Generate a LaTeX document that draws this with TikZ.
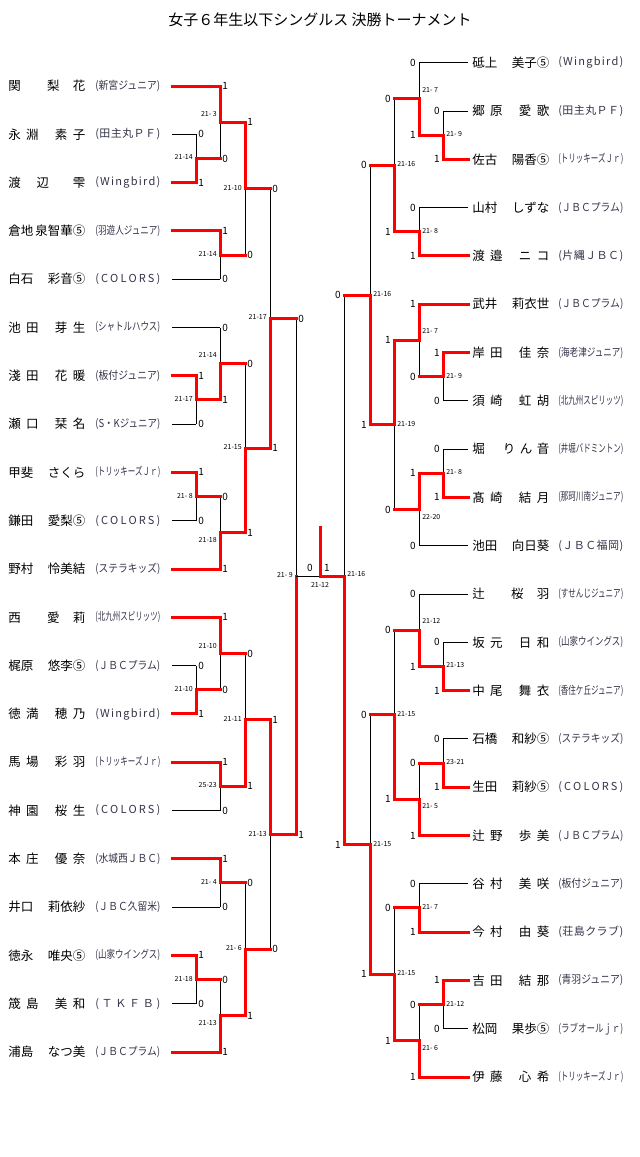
\documentclass[tikz,border=0pt]{standalone}
\usepackage{fontspec}
\usepackage{graphicx}
\setmainfont{Noto Sans CJK JP}
\usetikzlibrary{calc}

\definecolor{winred}{RGB}{255,0,0}
\definecolor{clubgray}{RGB}{50,50,72}

\newcommand\nmfont{\fontsize{12.5}{13}\selectfont}
\newcommand\clfont{\fontsize{11}{12}\selectfont}
\newcommand\resfont{\fontsize{10}{10}\selectfont}
\newcommand\scfont{\fontsize{7}{7}\selectfont}
\newcommand\ttlfont{\fontsize{15}{16}\selectfont}

% names are spread over their cell
\newcommand\nm[1]{{\spaceskip=0pt plus 1fil\relax\hbox to 77pt{#1}}}
% club names: squeezed when too long, spread when short
\def\spreadchars#1#2\relax{#1\ifx\relax#2\relax\else\hfil\spreadchars#2\relax\fi}
\newcommand\clubbox[1]{\sbox0{#1}\ifdim\wd0>65pt\resizebox{65pt}{\height}{#1}\else\hbox to 65pt{\spreadchars#1\relax}\fi}
\newcommand\club[1]{\edef\clubtmp{#1}\expandafter\clubbox\expandafter{\clubtmp}}

% one match: name, x level, winner, loser, loser line, score, score shift
\newcommand\match[7]{
  \coordinate (#1) at ($(#3 -| #2)!.5!(#4 -| #2)$);
  \draw[loseline] (#1) -- (#4 -| #2);
  \draw[#5] (#4) -- (#4 -| #2);
  \draw[winline] (#3) -- (#3 -| #2) -- (#1);
  \node[result] at (#3 -| #2) {1};
  \node[result] at (#4 -| #2) {0};
  \node[score] at ($(#1)+(0,#7)$) {#6};
}

\begin{document}
\begin{tikzpicture}[x=1pt,y=-1pt,semithick]
        \tikzstyle{winline}=[draw=winred, line width=3pt, line cap=rect]
        \tikzstyle{loseline}=[draw=black, line width=1pt]
        \tikzstyle{player}=[anchor=west, inner sep=0pt, font=\nmfont]
        \tikzstyle{clubname}=[anchor=west, inner sep=0pt, font=\clfont, text=clubgray]
        \tikzstyle{result}=[inner sep=0pt, font=\resfont]
        \tikzstyle{score}=[inner sep=0pt, font=\scfont]
        \useasboundingbox (0,0) rectangle (640,1157);

        \node[font=\ttlfont] (Title) at (320,20) {女子６年生以下シングルス 決勝トーナメント};

        % x levels of the bracket
        \foreach \lv/\xl/\xr in {A/196/443, B/220/419, C/245/394, D/270/370, E/296/344} {
          \coordinate (L\lv) at (\xl,0);
          \coordinate (R\lv) at (\xr,0);
        }
        \coordinate (Mid) at (320,0);

        % players, left half
        \foreach \i/\nam/\cl in {1/{関 \ 梨 花}/新宮ジュニア, 2/{永 淵 \ \ 素 子}/田主丸ＰＦ,
            3/{渡 \ 辺 \ \ 雫}/Wingbird, 4/{倉地 泉智華⑤}/羽遊人ジュニア, 5/{白石 彩音⑤}/COLORS,
            6/{池 田 \ \ 芽 生}/シャトルハウス, 7/{淺 田 \ \ 花 暖}/板付ジュニア,
            8/{瀬 口 \ \ 栞 名}/S・Kジュニア, 9/{甲斐 さくら}/トリッキーズＪｒ,
            10/{鎌田 愛梨⑤}/COLORS, 11/{野村 怜美結}/ステラキッズ, 12/{西 \ 愛 莉}/北九州スピリッツ,
            13/{梶原 悠李⑤}/ＪＢＣプラム, 14/{徳 満 \ \ 穂 乃}/Wingbird,
            15/{馬 場 \ \ 彩 羽}/トリッキーズＪｒ, 16/{神 園 \ \ 桜 生}/COLORS,
            17/{本 庄 \ \ 優 奈}/水城西ＪＢＣ, 18/{井口 莉依紗}/ＪＢＣ久留米,
            19/{徳永 唯央⑤}/山家ウイングス, 20/{筬 島 \ \ 美 和}/ＴＫＦＢ, 21/{浦島 なつ美}/ＪＢＣプラム} {
          \coordinate (L\i) at (172,{86+48.3*(\i-1)});
          \node[player] (NmL\i) at (8,{86+48.3*(\i-1)}) {\nm{\nam}};
          \node[clubname] (ClL\i) at (95,{86+48.3*(\i-1)}) {\club{(\cl)}};
        }

        % players, right half
        \foreach \i/\nam/\cl in {1/{砥上 美子⑤}/Wingbird, 2/{郷 原 \ \ 愛 歌}/田主丸ＰＦ,
            3/{佐古 陽香⑤}/トリッキーズＪｒ, 4/{山村 しずな}/ＪＢＣプラム, 5/{渡 邉 \ \ ニ コ}/片縄ＪＢＣ,
            6/{武井 莉衣世}/ＪＢＣプラム, 7/{岸 田 \ \ 佳 奈}/海老津ジュニア,
            8/{須 崎 \ \ 虹 胡}/北九州スピリッツ, 9/{堀 \ \ \ り ん 音}/井堀バドミントン,
            10/{髙 崎 \ \ 結 月}/那珂川南ジュニア, 11/{池田 向日葵}/ＪＢＣ福岡,
            12/{辻 \ 桜 羽}/すせんじジュニア, 13/{坂 元 \ \ 日 和}/山家ウイングス,
            14/{中 尾 \ \ 舞 衣}/香住ケ丘ジュニア, 15/{石橋 和紗⑤}/ステラキッズ,
            16/{生田 莉紗⑤}/COLORS, 17/{辻 野 \ \ 歩 美}/ＪＢＣプラム, 18/{谷 村 \ \ 美 咲}/板付ジュニア,
            19/{今 村 \ \ 由 葵}/荘島クラブ, 20/{吉 田 \ \ 結 那}/青羽ジュニア,
            21/{松岡 果歩⑤}/ラブオールｊｒ, 22/{伊 藤 \ \ 心 希}/トリッキーズＪｒ} {
          \coordinate (R\i) at (468,{62.7+48.3*(\i-1)});
          \node[player] (NmR\i) at (472,{62.7+48.3*(\i-1)}) {\nm{\nam}};
          \node[clubname] (ClR\i) at (558,{62.7+48.3*(\i-1)}) {\club{(\cl)}};
        }

        % left half of the draw
        \begin{scope}[result/.append style={anchor=west,xshift=2pt}, score/.append style={anchor=east,xshift=-3pt}]
        \match{M1}{LA}{L3}{L2}{loseline}{21-14}{-1}
        \match{M2}{LB}{L1}{M1}{winline}{21- 3}{-8}
        \match{M3}{LB}{L4}{L5}{loseline}{21-14}{-1}
        \match{M4}{LC}{M2}{M3}{winline}{21-10}{-1}
        \match{M5}{LA}{L7}{L8}{loseline}{21-17}{-1}
        \match{M6}{LB}{M5}{L6}{loseline}{21-14}{-9}
        \match{M7}{LA}{L9}{L10}{loseline}{21- 8}{-1}
        \match{M8}{LB}{L11}{M7}{winline}{21-18}{7}
        \match{M9}{LC}{M8}{M6}{winline}{21-15}{-1}
        \match{M10}{LD}{M9}{M4}{winline}{21-17}{-1}
        \match{M11}{LA}{L14}{L13}{loseline}{21-10}{-1}
        \match{M12}{LB}{L12}{M11}{winline}{21-10}{-8}
        \match{M13}{LB}{L15}{L16}{loseline}{25-23}{-1}
        \match{M14}{LC}{M13}{M12}{winline}{21-11}{-1}
        \match{M15}{LB}{L17}{L18}{loseline}{21- 4}{-1}
        \match{M16}{LA}{L19}{L20}{loseline}{21-18}{-1}
        \match{M17}{LB}{L21}{M16}{winline}{21-13}{7}
        \match{M18}{LC}{M17}{M15}{winline}{21- 6}{-1}
        \match{M19}{LD}{M14}{M18}{winline}{21-13}{-1}
        \match{M20}{LE}{M19}{M10}{winline}{21- 9}{-2}
        \end{scope}

        % right half of the draw
        \begin{scope}[result/.append style={anchor=east,xshift=-3pt}, score/.append style={anchor=west,xshift=3pt}]
        \match{N1}{RA}{R3}{R2}{loseline}{21- 9}{-1}
        \match{N2}{RB}{N1}{R1}{loseline}{21- 7}{-9}
        \match{N3}{RB}{R5}{R4}{loseline}{21- 8}{-1}
        \match{N4}{RC}{N3}{N2}{winline}{21-16}{-1}
        \match{N5}{RA}{R7}{R8}{loseline}{21- 9}{-1}
        \match{N6}{RB}{R6}{N5}{winline}{21- 7}{-9}
        \match{N7}{RA}{R10}{R9}{loseline}{21- 8}{-1}
        \match{N8}{RB}{N7}{R11}{loseline}{22-20}{8}
        \match{N9}{RC}{N6}{N8}{winline}{21-19}{-1}
        \match{N10}{RD}{N9}{N4}{winline}{21-16}{-1}
        \match{N11}{RA}{R14}{R13}{loseline}{21-13}{-1}
        \match{N12}{RB}{N11}{R12}{loseline}{21-12}{-9}
        \match{N13}{RA}{R16}{R15}{loseline}{23-21}{-1}
        \match{N14}{RB}{R17}{N13}{winline}{21- 5}{7}
        \match{N15}{RC}{N14}{N12}{winline}{21-15}{-1}
        \match{N16}{RB}{R19}{R18}{loseline}{21- 7}{-1}
        \match{N17}{RA}{R20}{R21}{loseline}{21-12}{-1}
        \match{N18}{RB}{R22}{N17}{winline}{21- 6}{7}
        \match{N19}{RC}{N18}{N16}{winline}{21-15}{-1}
        \match{N20}{RD}{N19}{N15}{winline}{21-15}{-1}
        % semi-final, level with the left one
        \coordinate (N21) at (M20 -| RE);
        \draw[loseline] (N21) -- (N10 -| RE);
        \draw[winline] (N10) -- (N10 -| RE);
        \draw[winline] (N20) -- (N20 -| RE) -- (N21);
        \node[result] at (N20 -| RE) {1};
        \node[result] at (N10 -| RE) {0};
        \node[score] at ($(N21)+(0,-3)$) {21-16};
        \end{scope}

        % final
        \coordinate (Fin) at (M20 -| Mid);
        \coordinate (Champ) at ($(Fin)+(0,-49)$);
        \draw[loseline] (M20) -- (Fin);
        \draw[winline] (N21) -- (Fin) -- (Champ);
        \node[result] at ($(Fin)+(-10,-9)$) {0};
        \node[result] at ($(Fin)+(7,-9)$) {1};
        \node[score] at ($(Fin)+(0,8)$) {21-12};
\end{tikzpicture}
\end{document}
